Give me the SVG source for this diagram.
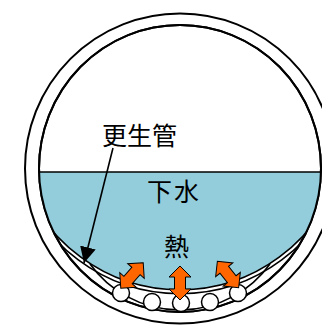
<svg xmlns="http://www.w3.org/2000/svg" width="322" height="328" viewBox="0 0 322 328">
  <style>
    .ring { fill: none; stroke: #000; stroke-width: 2; }
    .line { fill: none; stroke: #000; stroke-width: 1.6; }
    .pipe { fill: #fff; stroke: #000; stroke-width: 1.5; }
    .heat { fill: #FF6600; stroke: #000; stroke-width: 1; stroke-linejoin: miter; }
    .lbl { font-family: "Noto Sans CJK JP", "Noto Sans", sans-serif; font-size: 25px; fill: #000; }
  </style>
  <defs>
    <clipPath id="bore">
      <ellipse cx="180" cy="168.5" rx="141" ry="143.5"/>
    </clipPath>
    <marker id="head" markerUnits="userSpaceOnUse" markerWidth="16" markerHeight="16" viewBox="0 0 14 14" refX="14" refY="7" orient="auto">
      <path d="M0,0 L14,7 L0,14 Z" fill="#000"/>
    </marker>
    <!-- double-headed heat arrow, laid along +x, centred on the origin -->
    <path id="dbl" d="M17,0 L6,-11 L6,-5.5 L-6,-5.5 L-6,-11 L-17,0 L-6,11 L-6,5.5 L6,5.5 L6,11 Z"/>
  </defs>

  <rect width="322" height="328" fill="#fff"/>

  <!-- host pipe wall -->
  <g id="host-pipe">
    <circle cx="180" cy="168.5" r="155" class="ring"/>
    <ellipse cx="180" cy="168.5" rx="141" ry="143.5" fill="#fff" class="ring"/>
  </g>

  <!-- sewage flow above the liner -->
  <g id="sewage" clip-path="url(#bore)">
    <path d="M20.4,172 H339.6 A167,167 0 0 1 20.4,172 Z" fill="#93CDDC"/>
    <line x1="30" y1="172" x2="330" y2="172" stroke="#000" stroke-width="1.6"/>
  </g>

  <!-- rehabilitation liner with heat-exchange tray -->
  <g id="liner" clip-path="url(#bore)">
    <path d="M20.4,172 A167,167 0 0 0 339.6,172" class="line" stroke-width="2"/>
    <path d="M17,172 A170,170 0 0 0 343,172" class="line" stroke-width="1.2"/>
    <path d="M90,264 A111,111 0 0 0 270,264" class="line"/>
  </g>
  <ellipse cx="180" cy="168.5" rx="141" ry="143.5" class="ring"/>

  <g id="heat-pipes">
    <circle cx="121" cy="293" r="8.5" class="pipe"/>
    <circle cx="152" cy="302" r="8.5" class="pipe"/>
    <circle cx="181" cy="303" r="8.5" class="pipe"/>
    <circle cx="210" cy="302" r="8.5" class="pipe"/>
    <circle cx="238" cy="293" r="8.5" class="pipe"/>
  </g>

  <g id="heat-flow">
    <use href="#dbl" class="heat" transform="translate(132,275.5) rotate(-48.7)"/>
    <use href="#dbl" class="heat" transform="translate(180,283) rotate(90)"/>
    <use href="#dbl" class="heat" transform="translate(228,274.5) rotate(51.3)"/>
  </g>

  <g id="labels">
    <text class="lbl" x="102" y="145">更生管</text>
    <text class="lbl" x="147" y="201" letter-spacing="2">下水</text>
    <text class="lbl" x="164" y="256">熱</text>
  </g>

  <!-- leader from the liner label -->
  <g id="connectors">
    <line x1="113" y1="148" x2="84" y2="263" stroke="#000" stroke-width="1.6" marker-end="url(#head)"/>
  </g>
</svg>
